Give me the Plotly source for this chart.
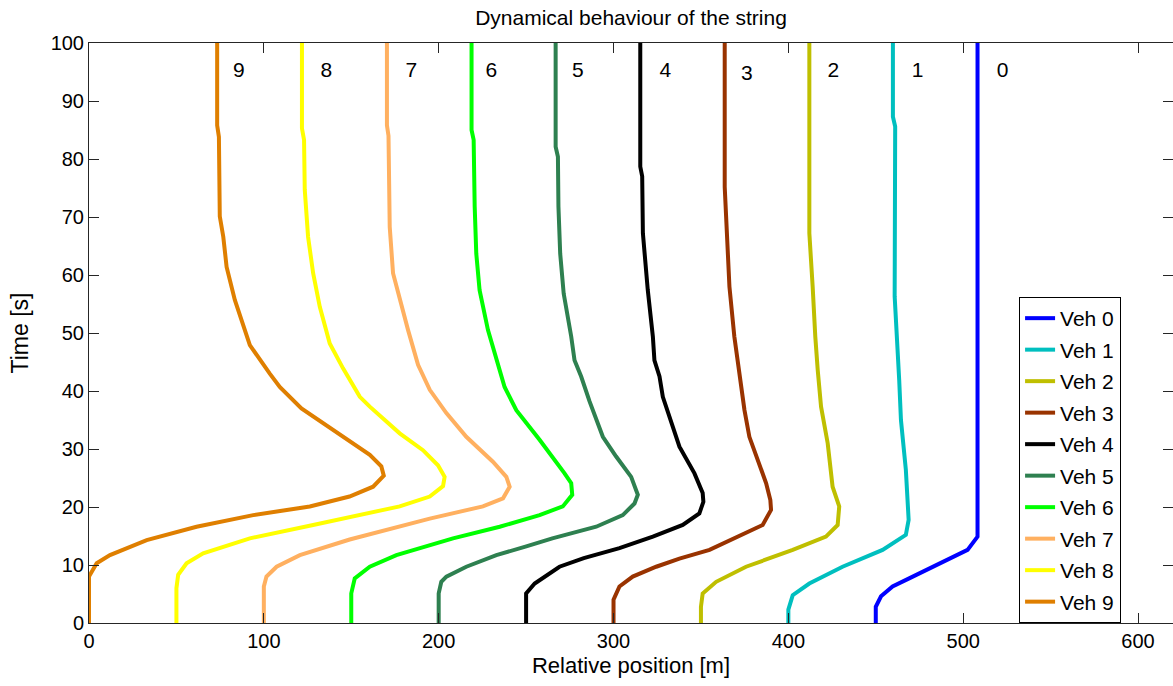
import plotly.graph_objects as go

# ---- data ----
veh_names = ["Veh 0", "Veh 1", "Veh 2", "Veh 3", "Veh 4", "Veh 5", "Veh 6", "Veh 7", "Veh 8", "Veh 9"]
veh_colors = ["#0000FF", "#00BFBF", "#BFBF00", "#993300", "#000000",
              "#2E8050", "#00FF00", "#FFB060", "#FFFF00", "#DF7F00"]

veh0_x = [450, 450, 453, 459.6, 469.1, 484.4, 502.5, 508.2, 508.2]
veh0_t = [0, 2.8, 4.6, 6.3, 7.7, 10.0, 12.6, 14.9, 100]

veh1_x = [400, 400, 402.5, 412, 431, 453.9, 467.2, 468.8, 467.2, 464.4, 463.4, 461.9, 460.8, 461.1, 459.8, 459.8]
veh1_t = [0, 2.3, 4.8, 6.8, 9.7, 12.6, 15.2, 17.8, 26.4, 35.0, 41.9, 49.4, 56.3, 85.6, 87.3, 100]

veh2_x = [350, 350, 351, 358.7, 375.8, 402.5, 421.5, 428.2, 429.1, 425.3, 422.5, 418.7, 416.8, 415.4, 413.9, 412.6, 412.0, 412.0]
veh2_t = [0, 2.8, 5.1, 7.1, 9.7, 12.6, 14.9, 16.9, 20.1, 23.5, 31.0, 37.3, 43.6, 49.4, 58.0, 65.5, 67.2, 100]

veh3_x = [300, 300, 303.4, 311, 324.4, 337.7, 354.9, 373.9, 385.3, 390.1, 389.7, 387.3, 377.7, 374.9, 373, 371, 369.1, 366.3, 365.3, 364.4, 363.6, 363.6]
veh3_t = [0, 4.0, 6.3, 8.0, 9.7, 11.1, 12.6, 15.2, 16.9, 19.5, 21.2, 24.1, 32.1, 36.7, 40.7, 45.3, 49.4, 58.0, 64.3, 73.5, 75.2, 100]

veh4_x = [250, 250, 254.9, 269.1, 283, 303.4, 322.5, 339.6, 349.1, 351.4, 351, 346.3, 337.7, 332, 328.2, 326.3, 323.4, 322.5, 319.6, 316.8, 316.4, 315.3, 315.3]
veh4_t = [0, 5.1, 6.8, 9.7, 11.2, 12.9, 14.9, 16.9, 18.9, 20.9, 22.4, 25.8, 30.4, 35.6, 39.0, 42.5, 45.3, 49.4, 57.4, 67.2, 77.0, 78.7, 100]

veh5_x = [200, 200, 201.5, 204.4, 215.8, 233, 250.1, 265, 290.1, 305.3, 312, 313.9, 310.1, 301.5, 293.9, 290.1, 286.3, 281.5, 277.7, 275.8, 271.5, 269.5, 268.5, 268.2, 266.9, 266.9]
veh5_t = [0, 5.1, 7.1, 8.0, 9.7, 11.7, 13.2, 14.6, 16.6, 18.6, 20.6, 22.1, 25.2, 28.7, 32.1, 35.0, 38.2, 42.5, 45.3, 49.4, 56.8, 63.7, 71.8, 80.4, 82.1, 100]

veh6_x = [150, 150, 152, 160.6, 175.8, 189.1, 208.2, 234.9, 257.7, 271, 276.4, 275.8, 272, 257.7, 244.4, 237.7, 231, 228.2, 223.4, 221.5, 220.6, 220.0, 218.8, 218.8]
veh6_t = [0, 5.1, 7.7, 9.7, 11.7, 12.9, 14.6, 16.6, 18.6, 20.1, 22.1, 24.1, 25.8, 31.6, 36.7, 40.7, 47.6, 50.5, 57.4, 63.7, 71.8, 83.3, 85.0, 100]

veh7_x = [100, 100, 101.5, 107.3, 120.6, 149.1, 194.9, 225.3, 236.8, 240.6, 238.7, 231, 215.8, 204.4, 194.9, 188.2, 182.5, 178.7, 173.9, 172, 171.5, 171.3, 170.4, 170.4]
veh7_t = [0, 6.3, 8.0, 9.7, 11.7, 14.4, 18.0, 20.1, 21.5, 23.5, 25.2, 27.8, 32.1, 36.2, 40.2, 44.5, 50.5, 55.1, 60.3, 68.3, 75.2, 84.0, 85.8, 100]

veh8_x = [50, 50, 51, 55.8, 65.3, 92, 128.2, 177.7, 194.9, 202.5, 203.4, 199.6, 191, 177.7, 160.6, 154.9, 145.3, 137.7, 132, 128.2, 125.3, 123.4, 123.0, 121.8, 121.8]
veh8_t = [0, 6.0, 8.3, 10.3, 12.0, 14.6, 16.9, 20.1, 21.8, 23.6, 25.2, 27.2, 29.8, 32.7, 37.3, 39.0, 43.9, 48.2, 54.5, 60.3, 66.6, 74.7, 83.3, 85.3, 100]

veh9_x = [0, 0, 4.4, 12, 33, 61.5, 93.9, 126.3, 149, 162.5, 168.6, 167.2, 160.6, 145.3, 130.1, 121.5, 109.1, 103.4, 92, 83.4, 78.7, 76.8, 74.8, 74.5, 74.3, 73.3, 73.3]
veh9_t = [0, 8.0, 10.3, 11.7, 14.3, 16.6, 18.6, 20.1, 21.8, 23.5, 25.4, 27.0, 29.0, 32.1, 35.3, 37.0, 40.7, 43.0, 47.9, 55.7, 61.4, 66.6, 70.1, 75.2, 83.8, 85.8, 100]

label_text = ["9", "8", "7", "6", "5", "4", "3", "2", "1", "0"]
label_x = [85.7, 135.8, 184.4, 230.1, 279.6, 329.7, 376.2, 425.7, 473.9, 522.5]
label_t = [95.0, 95.0, 95.0, 95.0, 95.0, 95.0, 94.6, 95.0, 95.0, 95.0]

x_ticks = [0, 100, 200, 300, 400, 500, 600]
y_ticks = [0, 10, 20, 30, 40, 50, 60, 70, 80, 90, 100]

series_x = [veh0_x, veh1_x, veh2_x, veh3_x, veh4_x, veh5_x, veh6_x, veh7_x, veh8_x, veh9_x]
series_t = [veh0_t, veh1_t, veh2_t, veh3_t, veh4_t, veh5_t, veh6_t, veh7_t, veh8_t, veh9_t]

FONT = "Liberation Sans, Arial, Helvetica, sans-serif"
AXC = "#262626"

fig = go.Figure()
for name, col, xs, ts in zip(veh_names, veh_colors, series_x, series_t):
    fig.add_trace(go.Scatter(
        x=xs, y=ts, mode="lines", name=name, legendgroup=name,
        line=dict(color=col, width=4),
    ))

fig.add_trace(go.Scatter(
    x=label_x, y=label_t, mode="text", text=label_text, showlegend=False,
    textfont=dict(family=FONT, size=21, color="#000000"), hoverinfo="skip",
))

fig.update_layout(
    width=1173, height=686,
    margin=dict(l=89, r=0, t=43, b=63),
    paper_bgcolor="white", plot_bgcolor="white",
    font=dict(family=FONT, size=20, color="#000000"),
    title=dict(text="Dynamical behaviour of the string", x=0.5, xref="paper",
               y=1 - 18 / 686, yref="container", yanchor="middle", xanchor="center",
               font=dict(family=FONT, size=21, color="#000000")),
    showlegend=True,
    legend=dict(x=0.858, xanchor="left", y=0, yanchor="bottom",
                bgcolor="white", bordercolor="#000000", borderwidth=1,
                font=dict(family=FONT, size=21, color="#000000"),
                tracegroupgap=1.2, traceorder="grouped"),
)

fig.update_xaxes(range=[0, 620], tickvals=x_ticks, ticks="inside", ticklen=10,
                 tickcolor=AXC, showline=True, linecolor=AXC, linewidth=1, mirror="ticks",
                 showgrid=False, zeroline=False,
                 tickfont=dict(family=FONT, size=20, color="#000000"),
                 title=dict(text="Relative position [m]", standoff=6,
                            font=dict(family=FONT, size=22, color="#000000")))
fig.update_yaxes(range=[0, 100], tickvals=y_ticks, ticks="inside", ticklen=10,
                 tickcolor=AXC, showline=True, linecolor=AXC, linewidth=1, mirror="ticks",
                 showgrid=False, zeroline=False,
                 tickfont=dict(family=FONT, size=20, color="#000000"),
                 title=dict(text="Time [s]", standoff=15,
                            font=dict(family=FONT, size=23, color="#000000")))

fig.write_html("out.html")
